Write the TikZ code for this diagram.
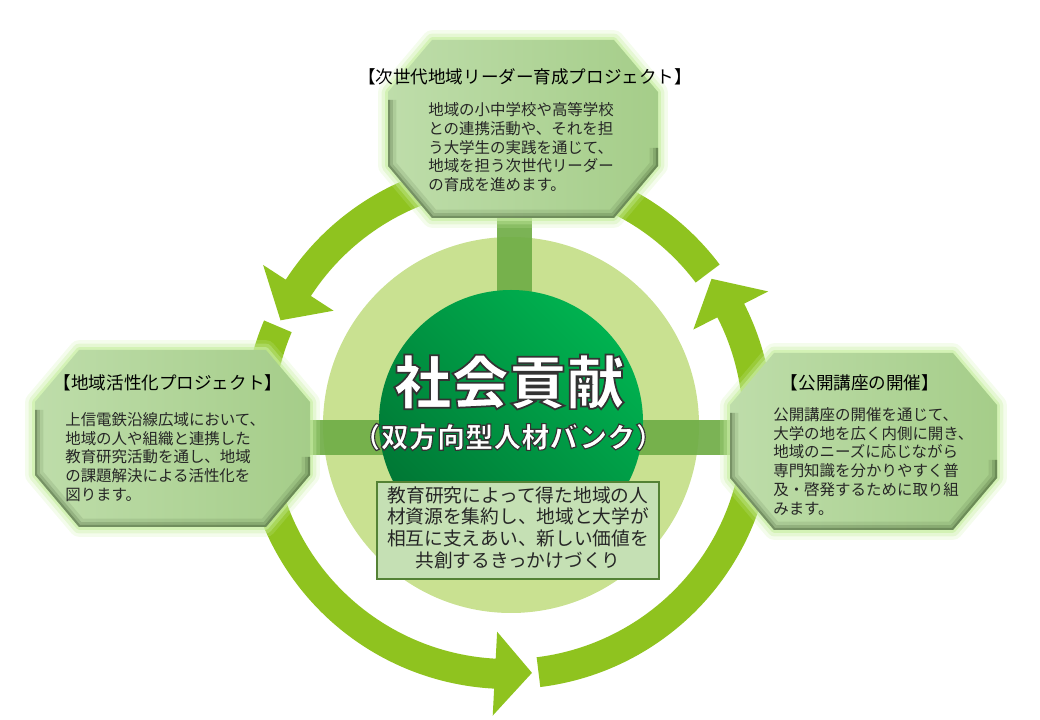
\documentclass[tikz,border=0pt]{standalone}
\usepackage{fontspec}
\setmainfont{Noto Sans CJK JP}
\newfontfamily\titlefont[FakeBold=3]{Noto Sans CJK JP}
\newfontfamily\bankfont[FakeBold=4]{Noto Sans CJK JP}
\usetikzlibrary{calc}

\definecolor{ringgreen}{RGB}{143,195,31}
\definecolor{disclight}{RGB}{201,225,145}
\definecolor{bandgreen}{RGB}{112,173,71}
\definecolor{discbright}{RGB}{0,178,80}
\definecolor{discdark}{RGB}{0,118,52}
\definecolor{octleft}{RGB}{190,221,170}
\definecolor{octright}{RGB}{165,205,137}
\definecolor{octglow}{RGB}{200,238,162}
\definecolor{octshade}{RGB}{60,85,45}
\definecolor{boxfill}{RGB}{197,224,180}
\definecolor{boxline}{RGB}{84,130,53}
\definecolor{bodytext}{RGB}{38,38,38}

% dark stroke colour for the emboldened (outlined) white lettering
\newcommand{\edgestroke}{\special{pdf:literal direct 0.2 0.2 0.2 RG}}

% octagon: x1, y1, x2, y2 (pixel grid, y downwards)
\newcommand{\octpath}[4]{({#1+44},#2) -- ({#3-44},#2) -- (#3,{#2+52}) -- (#3,{#4-52}) -- ({#3-44},#4) -- ({#1+44},#4) -- (#1,{#4-52}) -- (#1,{#2+52}) -- cycle}
\newcommand{\octlow}[4]{(#1,{#2+60}) -- (#1,{#4-52}) -- ({#1+44},#4) -- ({#3-44},#4) -- (#3,{#4-52}) -- (#3,{#4-70})}
\newcommand{\octagonbox}[4]{%
  \draw[octglow, line width=14pt, opacity=0.2, line join=round] \octpath{#1}{#2}{#3}{#4};
  \draw[octglow, line width=9pt, opacity=0.35, line join=round] \octpath{#1}{#2}{#3}{#4};
  \draw[octglow, line width=4pt, opacity=0.6, line join=round] \octpath{#1}{#2}{#3}{#4};
  \shade[left color=octleft, right color=octright] \octpath{#1}{#2}{#3}{#4};
  \begin{scope}
    \clip \octpath{#1}{#2}{#3}{#4};
    \draw[octshade, line width=12pt, opacity=0.12, line join=round] \octlow{#1}{#2}{#3}{#4};
    \draw[octshade, line width=7pt, opacity=0.2, line join=round] \octlow{#1}{#2}{#3}{#4};
    \draw[octshade, line width=3pt, opacity=0.35, line join=round] \octlow{#1}{#2}{#3}{#4};
  \end{scope}}

\begin{document}
\begin{tikzpicture}[x=0.025cm, y=-0.025cm,
    ringarrow/.style={fill=ringgreen},
    band/.style={fill=bandgreen, opacity=0.92},
    octtitle/.style={font=\fontsize{12.5}{15}\selectfont, text=black, inner sep=0},
    octbody/.style={font=\fontsize{11}{13.4}\selectfont, text=bodytext, align=left, anchor=north west, inner sep=0},
    maintitle/.style={font=\titlefont\bfseries\fontsize{41}{45}\selectfont, text=white, inner sep=0},
    banktitle/.style={font=\bankfont\bfseries\fontsize{20}{24}\selectfont, text=white, inner sep=0},
    purposetext/.style={font=\fontsize{13.3}{15.4}\selectfont, text=bodytext, align=center, inner sep=0}]
	\useasboundingbox (0,0) rectangle (1040,720);
	\coordinate (ring) at (508,424);
	\coordinate (hub) at (511,425);

	% cycle of three arrows
	\foreach \s in {37,157,277}{
		\fill[ringarrow] ($(ring)+(-\s:265)$) arc[start angle=-\s, end angle={-\s-110}, radius=265]
			-- ($(ring)+({-\s-110}:292)$) -- ($(ring)+({-\s-118.5}:250)$) -- ($(ring)+({-\s-110}:208)$)
			-- ($(ring)+({-\s-110}:235)$) arc[start angle={-\s-110}, end angle=-\s, radius=235] -- cycle;
	}

	\fill[disclight] (hub) circle (188);
	\fill[band] (300,420) rectangle (735,455);
	\fill[band] (497,215) rectangle (532,300);
	\shade[top color=discbright, bottom color=discdark, shading angle=-45] (511,422) circle (132);

	\octagonbox{388}{40}{658}{218}
	\octagonbox{35}{350}{310}{527}
	\octagonbox{730}{353}{997}{530}

	\node[octtitle] (toptitle) at (525,77) {【次世代地域リーダー育成プロジェクト】};
	\node[octbody] (topbody) at (428,102) {地域の小中学校や高等学校\\との連携活動や、それを担\\う大学生の実践を通じて、\\地域を担う次世代リーダー\\の育成を進めます。};

	\node[octtitle] (lefttitle) at (168,383) {【地域活性化プロジェクト】};
	\node[octbody] (leftbody) at (65,412) {上信電鉄沿線広域において、\\地域の人や組織と連携した\\教育研究活動を通し、地域\\の課題解決による活性化を\\図ります。};

	\node[octtitle] (righttitle) at (860,383) {【公開講座の開催】};
	\node[octbody] (rightbody) at (773,407) {公開講座の開催を通じて、\\大学の地を広く内側に開き、\\地域のニーズに応じながら\\専門知識を分かりやすく普\\及・啓発するために取り組\\みます。};

	\node[maintitle] (title) at (509,382) {\edgestroke 社会貢献};
	\node[banktitle] (bank) at (508,437) {\edgestroke （双方向型人材バンク）};

	\draw[boxline, fill=boxfill, line width=0.8pt] (377,482) rectangle (659,579);
	\node[purposetext] (purpose) at (518,527.5) {教育研究によって得た地域の人\\材資源を集約し、地域と大学が\\相互に支えあい、新しい価値を\\共創するきっかけづくり};
\end{tikzpicture}
\end{document}
